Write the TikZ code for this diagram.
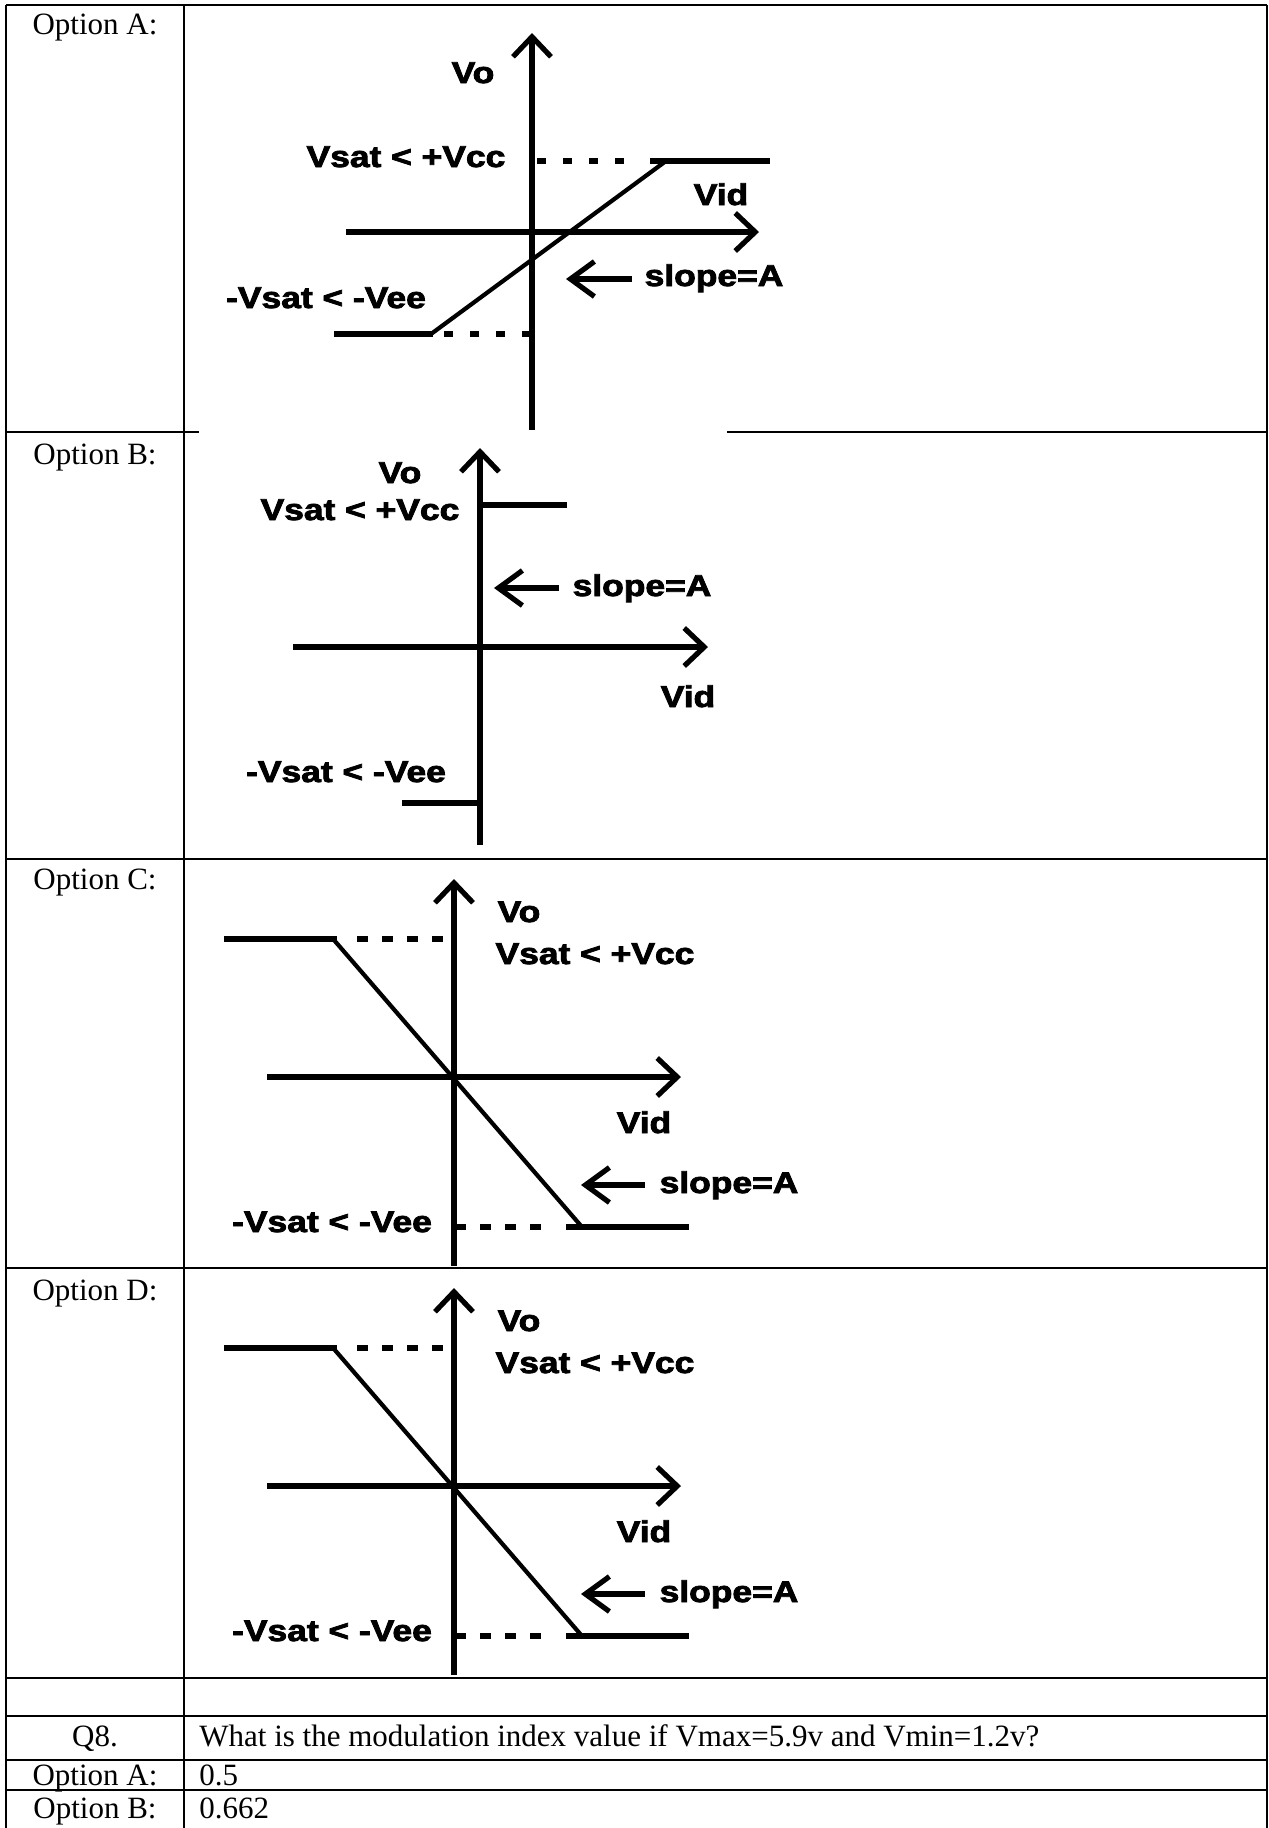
\documentclass[tikz,border=0pt]{standalone}
\usepackage{fontspec}
\usepackage{graphicx}
\setmainfont{Liberation Serif}
\newfontfamily\labfont{Liberation Sans}[BoldFeatures={FakeBold=2.5}]
\usetikzlibrary{arrows.meta}
\newcommand{\wide}[1]{\scalebox{1.18}[1]{#1}}
\begin{document}
\begin{tikzpicture}[x=0.5pt,y=-0.5pt,
  gridline/.style={line width=1.2pt},
  axis/.style={line width=2.6pt,-{Straight Barb[length=10pt,width=19pt]}},
  sat/.style={line width=3pt},
  ramp/.style={line width=2.1pt},
  dots/.style={line width=3pt,dash pattern=on 5.5pt off 7pt},
  dotsA/.style={line width=3pt,dash pattern=on 4.5pt off 8.5pt},
  slopearrow/.style={line width=2.6pt,-{Straight Barb[length=12pt,width=17.5pt]}},
  lab/.style={inner sep=0pt,anchor=base,font=\fontsize{15pt}{18pt}\selectfont\labfont\bfseries},
  cell/.style={inner sep=0pt,anchor=base,font=\fontsize{15.5pt}{18pt}\selectfont},
]
\useasboundingbox (0,0) rectangle (1269,1828);
\fill[white] (0,0) rectangle (1269,1828);

% table grid
\draw[gridline] (6,5) -- (1267,5);
\draw[gridline] (6,432) -- (199,432);
\draw[gridline] (727,432) -- (1267,432);
\foreach \yy in {859,1268,1678,1716,1760,1790}
  \draw[gridline] (6,\yy) -- (1267,\yy);
\draw[gridline] (6,5) -- (6,1828);
\draw[gridline] (184,5) -- (184,1828);
\draw[gridline] (1267,5) -- (1267,1828);

% left column texts
\node[cell] (optA) at (95,34) {Option A:};
\node[cell] (optB) at (95,464) {Option B:};
\node[cell] (optC) at (95,889) {Option C:};
\node[cell] (optD) at (95,1300) {Option D:};
\node[cell] (q8) at (95,1746) {Q8.};
\node[cell,anchor=base west] (qtext) at (199,1746) {What is the modulation index value if Vmax=5.9v and Vmin=1.2v?};
\node[cell] (optA2) at (95,1785) {Option A:};
\node[cell,anchor=base west] (valA) at (199,1785) {0.5};
\node[cell] (optB2) at (95,1818) {Option B:};
\node[cell,anchor=base west] (valB) at (199,1818) {0.662};

% ---------- Diagram A ----------
\draw[axis] (532,430) -- (532,33);
\draw[axis] (346,232) -- (759,232);
\draw[sat] (650,161) -- (770,161);
\draw[dotsA] (537,161) -- (624,161);
\draw[ramp] (666,161) -- (431,334);
\draw[sat] (334,334) -- (433,334);
\draw[dotsA] (531,334) -- (437,334);
\draw[slopearrow] (632,279) -- (566,279);
\node[lab] (a-vo) at (473,83) {\wide{Vo}};
\node[lab] (a-vsat) at (406,167) {\wide{Vsat < +Vcc}};
\node[lab] (a-vid) at (721,205) {\wide{Vid}};
\node[lab] (a-slope) at (714,286) {\wide{slope=A}};
\node[lab] (a-nvsat) at (326,308) {\wide{-Vsat < -Vee}};

% ---------- Diagram B ----------
\draw[axis] (480,845) -- (480,448);
\draw[axis] (293,647) -- (708,647);
\draw[sat] (480,505) -- (567,505);
\draw[sat] (402,803) -- (480,803);
\draw[slopearrow] (559,588) -- (494,588);
\node[lab] (b-vo) at (400,483) {\wide{Vo}};
\node[lab] (b-vsat) at (360,520) {\wide{Vsat < +Vcc}};
\node[lab] (b-slope) at (642,596) {\wide{slope=A}};
\node[lab] (b-vid) at (688,707) {\wide{Vid}};
\node[lab] (b-nvsat) at (346,782) {\wide{-Vsat < -Vee}};

% ---------- Diagrams C and D ----------
\foreach \dy/\pre in {0/c,409/d}{
\begin{scope}[shift={(0,\dy)},name prefix=\pre-]
\draw[axis] (454,1266) -- (454,879);
\draw[axis] (267,1077) -- (681,1077);
\draw[sat] (224,939) -- (337,939);
\draw[dots] (357,939) -- (452,939);
\draw[ramp] (334,940) -- (582,1227);
\draw[sat] (566,1227) -- (689,1227);
\draw[dots] (541,1227) -- (457,1227);
\draw[slopearrow] (645,1185) -- (581,1185);
\node[lab] (vo) at (519,922) {\wide{Vo}};
\node[lab] (vsat) at (595,964) {\wide{Vsat < +Vcc}};
\node[lab] (vid) at (644,1133) {\wide{Vid}};
\node[lab] (slope) at (729,1193) {\wide{slope=A}};
\node[lab] (nvsat) at (332,1232) {\wide{-Vsat < -Vee}};
\end{scope}
}
\end{tikzpicture}
\end{document}
